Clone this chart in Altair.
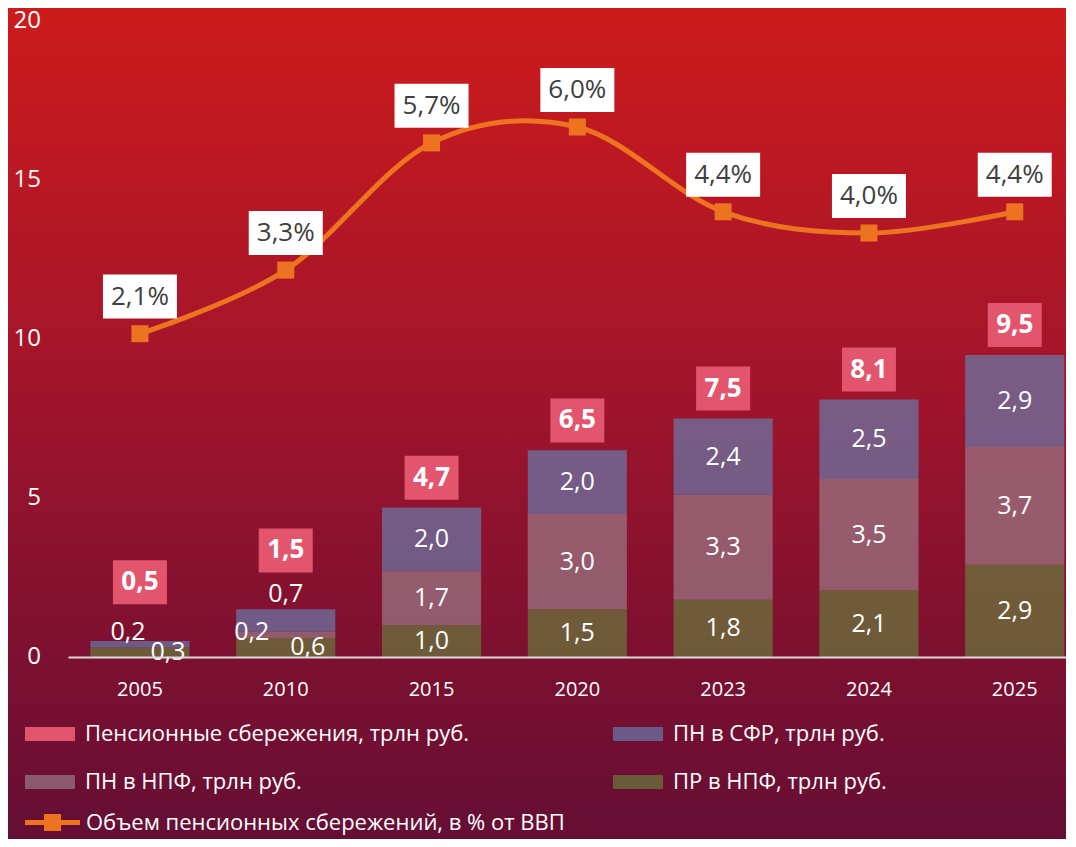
import altair as alt
import pandas as pd

# ---------------- data ----------------
years = ["2005", "2010", "2015", "2020", "2023", "2024", "2025"]
pr_npf = [0.3, 0.6, 1.0, 1.5, 1.8, 2.1, 2.9]      # ПР в НПФ
pn_npf = [0.0, 0.2, 1.7, 3.0, 3.3, 3.5, 3.7]      # ПН в НПФ
pn_sfr = [0.2, 0.7, 2.0, 2.0, 2.4, 2.5, 2.9]      # ПН в СФР
totals = [0.5, 1.5, 4.7, 6.5, 7.5, 8.1, 9.5]      # Пенсионные сбережения
gdp_pct = [2.1, 3.3, 5.7, 6.0, 4.4, 4.0, 4.4]     # % от ВВП
y_ticks = [0, 5, 10, 15, 20]
left_range = [0, 20]      # primary axis range (трлн руб.)
pct_range = [-4, 8]       # hidden secondary axis range (% ВВП)

S_TOTAL = "Пенсионные сбережения, трлн руб."
S_SFR = "ПН в СФР, трлн руб."
S_PN_NPF = "ПН в НПФ, трлн руб."
S_PR_NPF = "ПР в НПФ, трлн руб."
S_GDP = "Объем пенсионных сбережений, в % от ВВП"

legend_names = [S_TOTAL, S_SFR, S_PN_NPF, S_PR_NPF]
legend_colors = ["#e2556d", "rgba(104,122,171,0.7)", "rgba(154,122,136,0.7)", "rgba(104,122,61,0.7)"]

rows = []
for i, y in enumerate(years):
    for order, (name, vals) in enumerate([(S_PR_NPF, pr_npf), (S_PN_NPF, pn_npf), (S_SFR, pn_sfr)]):
        rows.append({"year": y, "series": name, "order": order, "value": vals[i]})
seg_df = pd.DataFrame(rows)
tot_df = pd.DataFrame({"year": years, "total": totals, "series": [S_TOTAL] * len(years)})
pct_df = pd.DataFrame({"year": years, "pct": gdp_pct, "series": [S_GDP] * len(years)})
tick_df = pd.DataFrame({"t": y_ticks})

FONT = "Open Sans"
W, H = 998, 636
PAD = {"left": 60, "top": 13, "right": 0, "bottom": 182}

x_enc = alt.X(
    "year:N", sort=years, title=None,
    scale=alt.Scale(paddingInner=0.32, paddingOuter=0.0825, align=0.93, round=False),
    axis=alt.Axis(labelAngle=0, labelFontSize=20, labelColor="white", labelFont=FONT,
                  ticks=False, tickSize=0, labelPadding=22, domainColor="#d9d9d9",
                  domainWidth=2, grid=False, zindex=1, orient="bottom"),
)
left_scale = alt.Scale(domain=left_range, nice=False, zero=True)

color_scale = alt.Scale(domain=legend_names, range=legend_colors)
RECT_PATH = "M-1,-0.28L1,-0.28L1,0.28L-1,0.28Z"
LINE_PATH = "M-1,-0.09L1,-0.09L1,0.09L-1,0.09Z M-0.31,-0.31L0.31,-0.31L0.31,0.31L-0.31,0.31Z"
TOT_BOX = "M-1,-0.815L1,-0.815L1,0.815L-1,0.815Z"
PCT_BOX = "M-1,-0.595L1,-0.595L1,0.595L-1,0.595Z"

# ---------------- background (decoration, not data) ----------------
bg = alt.Chart(pd.DataFrame({"k": [0]})).mark_rect(
    fill={"gradient": "linear", "x1": 0, "y1": 0, "x2": 0, "y2": 1,
          "stops": [{"offset": 0, "color": "#cd1b1b"},
                    {"offset": 0.4, "color": "#a7152a"},
                    {"offset": 0.78, "color": "#7c1030"},
                    {"offset": 1, "color": "#650e34"}]},
    strokeWidth=0,
).encode(x=alt.value(-PAD["left"]), x2=alt.value(W + 10),
         y=alt.value(-PAD["top"]), y2=alt.value(H + PAD["bottom"]))

# y-axis tick labels, drawn through the y scale (on top of the background)
y_labels = alt.Chart(tick_df).mark_text(
    font=FONT, fontSize=24, color="white", align="right", baseline="middle", dx=-27
).encode(x=alt.value(0), y=alt.Y("t:Q", scale=left_scale, axis=None), text="t:Q")

# ---------------- bars ----------------
bar_legend = alt.Legend(orient="none", legendX=-43, legendY=688, direction="horizontal",
                        columns=2, title=None, symbolType=RECT_PATH, symbolSize=2500,
                        symbolStrokeWidth=0, labelFontSize=22, labelColor="white",
                        labelFont=FONT, labelLimit=700, labelOffset=10,
                        columnPadding=143, rowPadding=12, symbolOpacity=1, zindex=1)

bars = alt.Chart(seg_df).mark_bar(strokeWidth=0).encode(
    x=x_enc,
    y=alt.Y("value:Q", stack="zero", scale=left_scale, title=None, axis=None),
    color=alt.Color("series:N", scale=color_scale, legend=bar_legend),
    order=alt.Order("order:Q", sort="ascending"),
)

seg_base = alt.Chart(seg_df).transform_stack(
    stack="value", groupby=["year"], as_=["y0", "y1"],
    sort=[alt.SortField("order", order="ascending")],
).transform_calculate(
    mid="(datum.y0 + datum.y1) / 2",
    lbl="replace(format(datum.value, '.1f'), '.', ',')",
)


def seg_text(flt, dx=0, dy=0):
    return seg_base.transform_filter(flt).mark_text(
        font=FONT, fontSize=25, color="white", dx=dx, dy=dy, baseline="middle"
    ).encode(x=x_enc, y=alt.Y("mid:Q", scale=left_scale, axis=None), text="lbl:N")


seg_main = seg_text("datum.year != '2005' && datum.year != '2010'")
s05a = seg_text(f"datum.year == '2005' && datum.series == '{S_SFR}'", dx=-12, dy=-12)
s05b = seg_text(f"datum.year == '2005' && datum.series == '{S_PR_NPF}'", dx=28, dy=0)
s10a = seg_text(f"datum.year == '2010' && datum.series == '{S_SFR}'", dx=0, dy=-26)
s10b = seg_text(f"datum.year == '2010' && datum.series == '{S_PN_NPF}'", dx=-34, dy=-3)
s10c = seg_text(f"datum.year == '2010' && datum.series == '{S_PR_NPF}'", dx=22, dy=0)

tot_base = alt.Chart(tot_df).transform_calculate(
    ty="datum.total + (datum.total < 2 ? 1.85 : 0.94)",
    lbl="replace(format(datum.total, '.1f'), '.', ',')",
)
tot_box = tot_base.mark_point(shape=TOT_BOX, size=2916, filled=True, opacity=1, strokeWidth=0).encode(
    x=x_enc, y=alt.Y("ty:Q", scale=left_scale, axis=None),
    color=alt.Color("series:N", scale=color_scale, legend=bar_legend),
)
tot_txt = tot_base.mark_text(font=FONT, fontSize=26, fontWeight="bold", color="white", baseline="middle").encode(
    x=x_enc, y=alt.Y("ty:Q", scale=left_scale, axis=None), text="lbl:N")

# ---------------- line on a hidden secondary axis (pct_range mapped onto the plot height) ----------------
k = (left_range[1] - left_range[0]) / (pct_range[1] - pct_range[0])
pct_base = alt.Chart(pct_df).transform_calculate(
    pl=f"(datum.pct - ({pct_range[0]})) * {k}",
    py=f"(datum.pct + 0.70 - ({pct_range[0]})) * {k}",
    lbl="replace(format(datum.pct, '.1f'), '.', ',') + '%'",
)
line = pct_base.mark_line(color="#ee7320", strokeWidth=5, interpolate="cardinal").encode(
    x=x_enc, y=alt.Y("pl:Q", scale=left_scale, axis=None))
pts = pct_base.mark_point(shape="square", filled=True, size=289, opacity=1, strokeWidth=0).encode(
    x=x_enc, y=alt.Y("pl:Q", scale=left_scale, axis=None),
    color=alt.Color("series:N", scale=alt.Scale(domain=[S_GDP], range=["#ee7320"]),
                    legend=alt.Legend(orient="none", legendX=-43, legendY=774, title=None,
                                      symbolType=LINE_PATH, symbolSize=3025, symbolStrokeWidth=0,
                                      labelFontSize=22, labelColor="white", labelFont=FONT,
                                      labelLimit=700, labelOffset=6, symbolOpacity=1, zindex=1)),
)
pct_box = pct_base.mark_point(shape=PCT_BOX, size=5476, filled=True, color="white", opacity=1, strokeWidth=0).encode(
    x=x_enc, y=alt.Y("py:Q", scale=left_scale, axis=None))
pct_txt = pct_base.mark_text(font=FONT, fontSize=26, color="#404040", baseline="middle").encode(
    x=x_enc, y=alt.Y("py:Q", scale=left_scale, axis=None), text="lbl:N")

left = alt.layer(bg, y_labels, bars, seg_main, s05a, s05b, s10a, s10b, s10c, tot_box, tot_txt)
right = alt.layer(line, pts, pct_box, pct_txt)

chart = alt.layer(left, right).resolve_scale(color="independent").properties(
    width=W, height=H, padding=PAD, autosize=alt.AutoSizeParams(type="none"),
).configure_view(stroke=None).configure(font=FONT)

chart.save("out.html", embed_options={"renderer": "svg", "actions": False})
